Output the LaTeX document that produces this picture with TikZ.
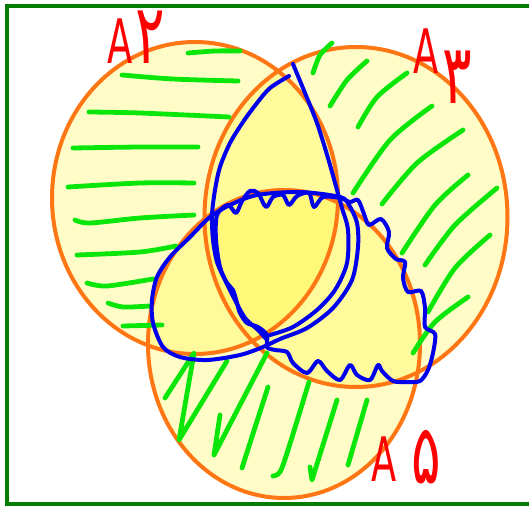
\documentclass[tikz,border=0pt]{standalone}
\usepackage{fontspec}
\usepackage{graphicx}
\newfontfamily\lblfont[Script=Arabic]{DejaVu Sans}
\definecolor{orng}{RGB}{255,118,20}
\definecolor{hatch}{RGB}{10,230,10}
\definecolor{pen}{RGB}{0,0,235}
\definecolor{lblred}{RGB}{255,0,0}
\definecolor{frame}{RGB}{0,125,0}
\newcommand{\digitbox}[2]{\raisebox{#1}{\scalebox{1.5}[1.35]{#2}}}
\tikzset{
  setfill/.style={fill=yellow, fill opacity=0.22, draw=none},
  setline/.style={draw=orng, line width=3pt},
  hatchline/.style={draw=hatch, line width=3.6pt, line cap=round, line join=round},
  penline/.style={draw=pen, line width=3pt, line cap=round, line join=round},
  lbl/.style={text=lblred, font=\lblfont\fontsize{46}{46}\selectfont, inner sep=0pt, anchor=base west}
}
\begin{document}
\begin{tikzpicture}[x=0.75pt,y=-0.75pt]
\useasboundingbox (0,0) rectangle (529,507);
% frame (right side lies outside the picture)
\draw[frame, line width=3pt] (540,6) -- (7,6) -- (7,503.5) -- (540,503.5);
% set fills
\fill[setfill] (195,198) ellipse [x radius=143, y radius=156];
\fill[setfill] (356,217) ellipse [x radius=151.5, y radius=170];
\fill[setfill] (284,344) ellipse [x radius=136, y radius=154];
% set outlines
\draw[setline] (195,198) ellipse [x radius=143, y radius=156];
\draw[setline] (356,217) ellipse [x radius=151.5, y radius=170];
\draw[setline] (284,344) ellipse [x radius=136, y radius=154];
% hatching in A2 only
\draw[hatchline] plot[smooth] coordinates {(188,53) (215,51) (240,51)};
\draw[hatchline] plot[smooth] coordinates {(122,75) (173,79) (238,81)};
\draw[hatchline] plot[smooth] coordinates {(89,112) (140,113) (229,117)};
\draw[hatchline] plot[smooth] coordinates {(73,148) (140,147) (198,147)};
\draw[hatchline] plot[smooth] coordinates {(68,187) (140,183) (194,183)};
\draw[hatchline] plot[smooth] coordinates {(75,220) (90,223) (140,218) (194,215)};
\draw[hatchline] plot[smooth] coordinates {(77,255) (140,252) (176,246)};
\draw[hatchline] plot[smooth] coordinates {(87,283) (107,286) (153,279)};
\draw[hatchline] plot[smooth] coordinates {(108,303) (123,307) (150,306)};
\draw[hatchline] plot[smooth] coordinates {(123,326) (162,325)};
% hatching in A3 only
\draw[hatchline] plot[smooth] coordinates {(332,43) (320,55) (313,73)};
\draw[hatchline] plot[smooth] coordinates {(367,61) (347,80) (330,106)};
\draw[hatchline] plot[smooth] coordinates {(407,73) (377,97) (358,127)};
\draw[hatchline] plot[smooth] coordinates {(432,106) (390,140) (353,193)};
\draw[hatchline] plot[smooth] coordinates {(463,130) (417,163) (382,204)};
\draw[hatchline] plot[smooth] coordinates {(468,175) (435,205) (402,253)};
\draw[hatchline] plot[smooth] coordinates {(497,188) (455,225) (425,265)};
\draw[hatchline] plot[smooth] coordinates {(490,235) (455,268) (428,312)};
\draw[hatchline] plot[smooth] coordinates {(468,297) (435,322) (413,353)};
% hatching in A5 only
\draw[hatchline] (165,398) -- (194,353) -- (179,440) -- (227,361);
\draw[hatchline] (220,415) -- (214,455) -- (267,353);
\draw[hatchline] (268,387) -- (242,468);
\draw[hatchline] plot[smooth] coordinates {(309,382) (288,450) (280,472) (273,476)};
\draw[hatchline] (337,400) -- (312,480) -- (310,467);
\draw[hatchline] (367,400) -- (348,465);
% blue outlines
\draw[penline] plot[smooth cycle] coordinates {(340,197) (300,192) (257,195) (230,205) (210,217) (190,237) (170,257) (157,277) (152,300) (153,323) (163,347) (180,357) (207,360) (240,355) (263,347) (280,339) (307,328) (333,308) (352,280) (358,247) (357,223) (349,205)};
\draw[penline] plot[smooth] coordinates {(289,76) (270,88) (257,103) (243,122) (230,143) (220,167) (215,190) (212,215) (213,240) (217,262) (225,280) (235,300) (245,318) (258,330) (267,340)};
\draw[penline] plot[smooth] coordinates {(293,64) (305,93) (317,123) (328,158) (337,190) (342,208) (348,230) (347,263) (335,290) (317,310) (293,327) (270,335)};
\draw[penline] plot[smooth cycle, tension=0.5] coordinates {(228,205) (236,213) (242,201) (250,191) (258,193) (266,207) (273,197) (283,195) (289,205) (297,196) (309,193) (314,207) (323,197) (340,198) (350,202) (358,200) (364,214) (369,225) (381,219) (389,232) (387,248) (396,259) (405,262) (403,278) (408,292) (421,291) (425,308) (425,327) (435,334) (433,353) (428,370) (420,381) (407,382) (393,381) (382,371) (378,365) (370,380) (357,375) (350,365) (340,380) (327,371) (318,361) (307,373) (293,363) (287,352) (275,350) (267,347) (267,335) (258,327) (247,323) (240,313) (237,303) (233,290) (227,283) (220,267) (216,240) (217,215)};
% labels
\node[lbl] (lA2) at (107,63) {\scalebox{0.6}[1]{A\hspace{0.08em}\digitbox{0em}{۲}}};
\node[lbl] (lA3) at (413,73) {\scalebox{0.6}[1]{A\hspace{0.1em}\digitbox{-0.5em}{۳}}};
\node[lbl] (lA5) at (371,481) {\scalebox{0.6}[1]{A\hspace{0.4em}\digitbox{-0.04em}{۵}}};
\end{tikzpicture}
\end{document}
